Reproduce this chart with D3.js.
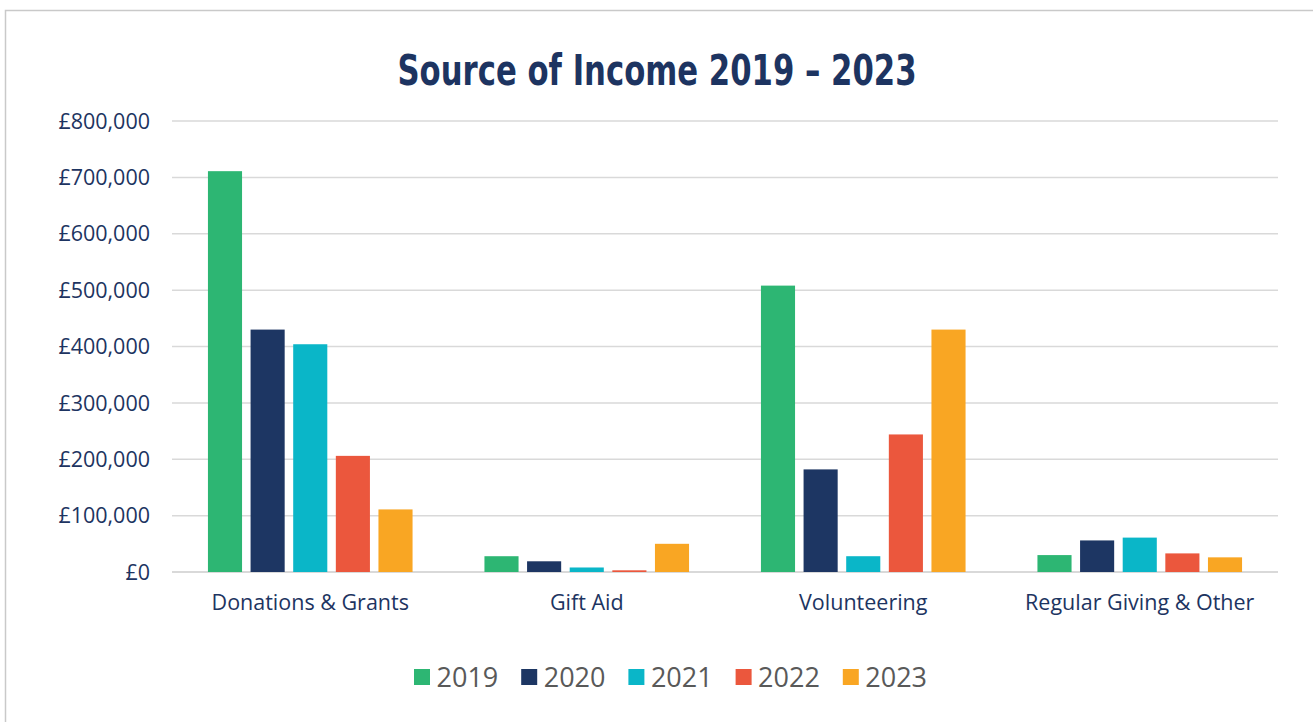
<!DOCTYPE html>
<html>
<head>
<meta charset="utf-8">
<script src="https://cdn.jsdelivr.net/npm/d3@7"></script>
<style>
  body { margin: 0; background: #fff; }
  svg { display: block; }
</style>
</head>
<body>
<svg id="chart" width="1313" height="722"></svg>
<script>
// Income by source, one value per year
const categories = ["Donations & Grants", "Gift Aid", "Volunteering", "Regular Giving & Other"];
const years = ["2019", "2020", "2021", "2022", "2023"];
const income2019 = [711000, 28000, 508000, 30000];
const income2020 = [430000, 19000, 182000, 56000];
const income2021 = [404000, 8000, 28000, 61000];
const income2022 = [206000, 3000, 244000, 33000];
const income2023 = [111000, 50000, 430000, 26000];
const yTicks = [0, 100000, 200000, 300000, 400000, 500000, 600000, 700000, 800000];

const series = [income2019, income2020, income2021, income2022, income2023];
const colors = ["#2db673", "#1d3663", "#0ab6c8", "#eb573d", "#f9a623"];
const navy = "#1d3461";

const svg = d3.select("#chart");

// outer frame (only left + top visible in the original)
svg.append("rect")
  .attr("x", 5.5).attr("y", 10.5)
  .attr("width", 1400).attr("height", 800)
  .attr("fill", "none")
  .attr("stroke", "#c9c9c9")
  .attr("stroke-width", 1.5);

svg.append("text")
  .attr("x", 657).attr("y", 85)
  .attr("text-anchor", "middle")
  .attr("font-family", "'DejaVu Sans Condensed', sans-serif")
  .attr("font-weight", 700)
  .attr("font-size", 43)
  .attr("textLength", 519)
  .attr("lengthAdjust", "spacingAndGlyphs")
  .attr("fill", navy)
  .text("Source of Income 2019 – 2023");

const y = d3.scaleLinear().domain([0, 800000]).range([572, 121]);
const x0 = d3.scaleBand().domain(categories).range([172, 1278])
  .paddingInner(0.26).paddingOuter(0.13);
const x1 = d3.scaleBand().domain(years).range([0, x0.bandwidth()]).paddingInner(0.2);
const color = d3.scaleOrdinal().domain(years).range(colors);

// gridlines
svg.append("g")
  .selectAll("line")
  .data(yTicks)
  .join("line")
  .attr("x1", 172).attr("x2", 1278)
  .attr("y1", (d) => y(d)).attr("y2", (d) => y(d))
  .attr("stroke", "#d9d9d9")
  .attr("stroke-width", (d) => (d === 0 ? 2 : 1.5));

// y labels
const fmt = d3.format(",");
svg.append("g")
  .selectAll("text")
  .data(yTicks)
  .join("text")
  .attr("x", 150)
  .attr("y", (d) => y(d))
  .attr("dy", "0.36em")
  .attr("text-anchor", "end")
  .attr("font-family", "'Open Sans', sans-serif")
  .attr("font-size", 21.5)
  .attr("fill", navy)
  .text((d) => "£" + fmt(d));

// bars
const groups = svg.append("g")
  .selectAll("g")
  .data(categories)
  .join("g")
  .attr("transform", (d) => `translate(${x0(d)},0)`);

groups.selectAll("rect")
  .data((c, i) => years.map((yr, j) => ({ year: yr, value: series[j][i] })))
  .join("rect")
  .attr("x", (d) => x1(d.year))
  .attr("width", x1.bandwidth())
  .attr("y", (d) => y(d.value))
  .attr("height", (d) => y(0) - y(d.value))
  .attr("fill", (d) => color(d.year));

// category labels
svg.append("g")
  .selectAll("text")
  .data(categories)
  .join("text")
  .attr("x", (d) => x0(d) + x0.bandwidth() / 2)
  .attr("y", 610)
  .attr("text-anchor", "middle")
  .attr("font-family", "'Open Sans', sans-serif")
  .attr("font-size", 21.5)
  .attr("fill", navy)
  .text((d) => d);

// legend
const legend = svg.append("g")
  .selectAll("g")
  .data(years)
  .join("g")
  .attr("transform", (d, i) => `translate(${414 + i * 107.2},669)`);

legend.append("rect")
  .attr("width", 16).attr("height", 16)
  .attr("fill", (d) => color(d));

legend.append("text")
  .attr("x", 22.5).attr("y", 18)
  .attr("font-family", "'Open Sans', sans-serif")
  .attr("font-size", 27)
  .attr("fill", "#595959")
  .text((d) => d);
</script>
</body>
</html>
